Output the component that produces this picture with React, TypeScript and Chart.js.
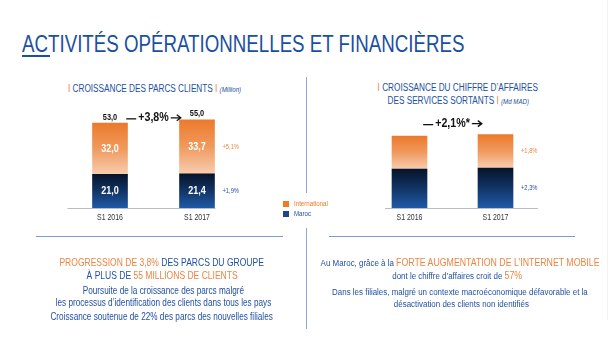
import React, { useEffect, useRef } from "react";
import { Chart, registerables } from "chart.js";

Chart.register(...registerables);

// ---------- DATA ----------
const categories = ["S1 2016", "S1 2017"];
const parcsMaroc = [21.0, 21.4];
const parcsIntl = [32.0, 33.7];
const parcsTotals = [53.0, 55.0];
const parcsGrowth = ["+1,9%", "+5,1%"]; // Maroc, International
const parcsTotalGrowth = "+3,8%";

const caMaroc = [7.6, 7.78];
const caIntl = [6.4, 6.52];
const caGrowth = ["+2,3%", "+1,8%"]; // Maroc, International
const caTotalGrowth = "+2,1%*";

const seriesNames = ["Maroc", "International"];

// ---------- STYLE ----------
const FONT = '"Liberation Sans", Arial, sans-serif';
const NARROW = 0.82;
const BLUE = "#2150a3";
const ORANGE = "#ef8440";
const ORANGE_LEG = "#f07a22";
const BLUE_LEG = "#1d468d";

const fmt = (v: number) => v.toFixed(1).replace(".", ",");

function narrowText(c: CanvasRenderingContext2D, text: string, x: number, y: number) {
  c.save();
  c.translate(x, y);
  c.scale(NARROW, 1);
  c.fillText(text, 0, 0);
  c.restore();
}

type ChartProps = {
  left: number;
  top: number;
  width: number;
  height: number;
  maroc: number[];
  intl: number[];
  yMax: number;
  padding: { left: number; right: number; top: number; bottom: number };
  showValues: boolean;
  totals?: number[];
  growth: string[];
  totalGrowth: string;
  arrowLift: number;
  axisExt: [number, number];
};

function StackedChart(props: ChartProps) {
  const ref = useRef<HTMLCanvasElement | null>(null);
  useEffect(() => {
    const canvas = ref.current!;
    const { maroc, intl } = props;

    const gradFor = (datasetIndex: number) => (ctx: any) => {
      const chart = ctx.chart;
      const y = chart.scales?.y;
      const i = ctx.dataIndex;
      if (!chart.chartArea || !y || i === undefined) {
        return datasetIndex === 0 ? "#123b73" : "#ef8440";
      }
      const base = datasetIndex === 0 ? 0 : maroc[i];
      const topV = datasetIndex === 0 ? maroc[i] : maroc[i] + intl[i];
      const y0 = y.getPixelForValue(topV);
      const y1 = y.getPixelForValue(base);
      const g = chart.ctx.createLinearGradient(0, y0, 0, y1);
      if (datasetIndex === 0) {
        g.addColorStop(0, "#06142a");
        g.addColorStop(0.45, "#10315f");
        g.addColorStop(1, "#1f5aa6");
      } else {
        g.addColorStop(0, "#ec7a2c");
        g.addColorStop(0.5, "#f09a5e");
        g.addColorStop(1, "#f7cdb0");
      }
      return g;
    };

    const labelsPlugin = {
      id: "slideLabels",
      afterDatasetsDraw(chart: any) {
        const c = chart.ctx as CanvasRenderingContext2D;
        const y = chart.scales.y;
        const m0 = chart.getDatasetMeta(0);
        const m1 = chart.getDatasetMeta(1);
        const b0 = m0.data[0];
        const b1 = m0.data[1];
        const half = b0.width / 2;
        const base = y.getPixelForValue(0);
        c.save();
        // axis line
        c.strokeStyle = "#b9bcc2";
        c.lineWidth = 1;
        c.beginPath();
        c.moveTo(b0.x - half - props.axisExt[0], Math.round(base) + 0.5);
        c.lineTo(b1.x + half + props.axisExt[1], Math.round(base) + 0.5);
        c.stroke();
        // category labels
        c.fillStyle = "#333";
        c.font = `8.5px ${FONT}`;
        c.textAlign = "center";
        c.textBaseline = "middle";
        categories.forEach((cat, i) => {
          narrowText(c, cat, m0.data[i].x, base + 10);
        });
        // values inside
        if (props.showValues) {
          c.fillStyle = "#ffffff";
          c.font = `bold 11px ${FONT}`;
          [m0, m1].forEach((m: any, di: number) => {
            const arr = di === 0 ? maroc : intl;
            m.data.forEach((el: any, i: number) => {
              narrowText(c, fmt(arr[i]), el.x, (el.y + el.base) / 2);
            });
          });
        }
        // totals above
        if (props.totals) {
          c.fillStyle = "#111";
          c.font = `bold 9px ${FONT}`;
          m1.data.forEach((el: any, i: number) => {
            narrowText(c, fmt(props.totals![i]), el.x, el.y - 6);
          });
        }
        // growth labels right of last bar
        c.font = `7px ${FONT}`;
        c.textAlign = "left";
        const last = categories.length - 1;
        [m0, m1].forEach((m: any, di: number) => {
          const el = m.data[last];
          c.fillStyle = di === 0 ? BLUE : ORANGE;
          narrowText(c, props.growth[di], el.x + half + 8, (el.y + el.base) / 2);
        });
        // arrow with total growth
        const t0 = m1.data[0].y;
        const t1 = m1.data[1].y;
        const ay = Math.min(t0, t1) - props.arrowLift;
        const mid = (b0.x + half + b1.x - half) / 2;
        c.font = `bold 13px ${FONT}`;
        const tw = c.measureText(props.totalGrowth).width * NARROW;
        const dash = 10;
        const arr = 10;
        const gap = 2;
        const total = dash + gap + tw + gap + arr;
        let x = mid - total / 2;
        c.strokeStyle = "#111";
        c.lineWidth = 1.3;
        c.beginPath();
        c.moveTo(x, ay + 1);
        c.lineTo(x + dash, ay + 1);
        c.stroke();
        x += dash + gap;
        c.fillStyle = "#111";
        c.textAlign = "left";
        narrowText(c, props.totalGrowth, x, ay);
        x += tw + gap;
        c.beginPath();
        c.moveTo(x, ay);
        c.lineTo(x + arr, ay);
        c.moveTo(x + arr - 4, ay - 3);
        c.lineTo(x + arr, ay);
        c.lineTo(x + arr - 4, ay + 3);
        c.stroke();
        c.restore();
      },
    };

    const chart = new Chart(canvas, {
      type: "bar",
      data: {
        labels: categories,
        datasets: [
          { label: seriesNames[0], data: maroc, backgroundColor: gradFor(0) as any, stack: "s", barThickness: 35 },
          { label: seriesNames[1], data: intl, backgroundColor: gradFor(1) as any, stack: "s", barThickness: 35 },
        ],
      },
      options: {
        responsive: false,
        animation: false,
        devicePixelRatio: 1,
        layout: { padding: props.padding },
        plugins: { legend: { display: false }, tooltip: { enabled: false } },
        scales: {
          x: { stacked: true, display: false },
          y: { stacked: true, display: false, min: 0, max: props.yMax },
        },
      },
      plugins: [labelsPlugin],
    });
    return () => chart.destroy();
  }, []);
  return (
    <canvas
      ref={ref}
      width={props.width}
      height={props.height}
      style={{ position: "absolute", left: props.left, top: props.top, width: props.width, height: props.height }}
    />
  );
}

function Line({ cx, cy, size, w, children, style }: any) {
  return (
    <div
      style={{
        position: "absolute",
        left: cx - w / 2,
        width: w,
        top: cy - size * 0.6,
        height: size * 1.2,
        lineHeight: `${size * 1.2}px`,
        fontSize: size,
        textAlign: "center",
        whiteSpace: "nowrap",
        color: BLUE,
        ...style,
      }}
    >
      <span style={{ display: "inline-block", transform: `scaleX(${NARROW})`, transformOrigin: "50% 50%" }}>{children}</span>
    </div>
  );
}

const O = ({ children }: any) => <span style={{ color: ORANGE }}>{children}</span>;

export default function App() {
  return (
    <div
      style={{
        position: "absolute",
        left: 0,
        top: 0,
        width: 613,
        height: 364,
        background: "#ffffff",
        overflow: "hidden",
        fontFamily: FONT,
      }}
    >
      {/* title */}
      <div
        style={{
          position: "absolute",
          left: 22,
          top: 31,
          fontSize: 24,
          lineHeight: "26px",
          color: "#1b4fa0",
          whiteSpace: "nowrap",
          transform: "scaleX(0.78)",
          transformOrigin: "0 50%",
        }}
      >
        ACTIVITÉS OPÉRATIONNELLES ET FINANCIÈRES
      </div>
      <div style={{ position: "absolute", left: 22, top: 55, width: 28, height: 2, background: "#1b4fa0" }} />

      {/* right edge faint line */}
      <div style={{ position: "absolute", left: 607, top: 0, width: 1, height: 320, background: "#f2f2f2" }} />

      {/* subtitles */}
      <Line cx={155} cy={89} size={10} w={260}>
        <O>I </O>CROISSANCE DES PARCS CLIENTS <O>I </O>
        <span style={{ fontStyle: "italic", fontSize: 7.5 }}>(Million)</span>
      </Line>
      <Line cx={458} cy={88} size={10} w={260}>
        <O>I </O>CROISSANCE DU CHIFFRE D’AFFAIRES
      </Line>
      <Line cx={458} cy={101} size={10} w={260}>
        DES SERVICES SORTANTS <O>I </O>
        <span style={{ fontStyle: "italic", fontSize: 7.5 }}>(Md MAD)</span>
      </Line>

      {/* charts */}
      <StackedChart
        left={0}
        top={60}
        width={300}
        height={180}
        maroc={parcsMaroc}
        intl={parcsIntl}
        yMax={70}
        padding={{ left: 66.5, right: 59.5, top: 36, bottom: 32 }}
        showValues={true}
        totals={parcsTotals}
        growth={parcsGrowth}
        totalGrowth={parcsTotalGrowth}
        arrowLift={2}
        axisExt={[25, 1]}
      />
      <StackedChart
        left={310}
        top={60}
        width={300}
        height={180}
        maroc={caMaroc}
        intl={caIntl}
        yMax={20}
        padding={{ left: 56.5, right: 71.5, top: 45.4, bottom: 32 }}
        showValues={false}
        growth={caGrowth}
        totalGrowth={caTotalGrowth}
        arrowLift={11}
        axisExt={[7, 25]}
      />

      {/* legend */}
      <div style={{ position: "absolute", left: 283, top: 201, width: 6, height: 6, background: ORANGE_LEG }} />
      <div style={{ position: "absolute", left: 294, top: 199, fontSize: 7.5, lineHeight: "9px", color: ORANGE_LEG, whiteSpace: "nowrap", transform: `scaleX(${NARROW})`, transformOrigin: "0 50%" }}>
        {seriesNames[1]}
      </div>
      <div style={{ position: "absolute", left: 283, top: 211, width: 6, height: 6, background: BLUE_LEG }} />
      <div style={{ position: "absolute", left: 294, top: 209, fontSize: 7.5, lineHeight: "9px", color: BLUE, whiteSpace: "nowrap", transform: `scaleX(${NARROW})`, transformOrigin: "0 50%" }}>
        {seriesNames[0]}
      </div>

      {/* dividers */}
      <div style={{ position: "absolute", left: 306, top: 77, width: 1, height: 116, background: "#8ea8d2" }} />
      <div style={{ position: "absolute", left: 306, top: 228, width: 1, height: 101, background: "#8ea8d2" }} />
      <div style={{ position: "absolute", left: 36, top: 236, width: 247, height: 1, background: "#7f9ccd" }} />
      <div style={{ position: "absolute", left: 329, top: 236, width: 246, height: 1, background: "#7f9ccd" }} />

      {/* bottom left text */}
      <Line cx={162} cy={263} size={10.4} w={300}>
        <O>PROGRESSION DE 3,8%</O> DES PARCS DU GROUPE
      </Line>
      <Line cx={162} cy={276} size={10.4} w={300}>
        À PLUS DE <O>55 MILLIONS DE CLIENTS</O>
      </Line>
      <Line cx={163} cy={291} size={10} w={320}>
        Poursuite de la croissance des parcs malgré
      </Line>
      <Line cx={163} cy={303} size={10} w={320}>
        les processus d’identification des clients dans tous les pays
      </Line>
      <Line cx={162} cy={317} size={10} w={320}>
        Croissance soutenue de 22% des parcs des nouvelles filiales
      </Line>

      {/* bottom right text */}
      <Line cx={460} cy={263} size={9.7} w={360}>
        Au Maroc, grâce à la <O><span style={{ fontSize: 10.7 }}>FORTE AUGMENTATION DE L’INTERNET MOBILE</span></O>
      </Line>
      <Line cx={457} cy={276} size={9.7} w={360}>
        dont le chiffre d’affaires croit de <O><span style={{ fontSize: 10.7 }}>57%</span></O>
      </Line>
      <Line cx={460} cy={292} size={9.7} w={360}>
        Dans les filiales, malgré un contexte macroéconomique défavorable et la
      </Line>
      <Line cx={461} cy={304} size={9.7} w={360}>
        désactivation des clients non identifiés
      </Line>
    </div>
  );
}
